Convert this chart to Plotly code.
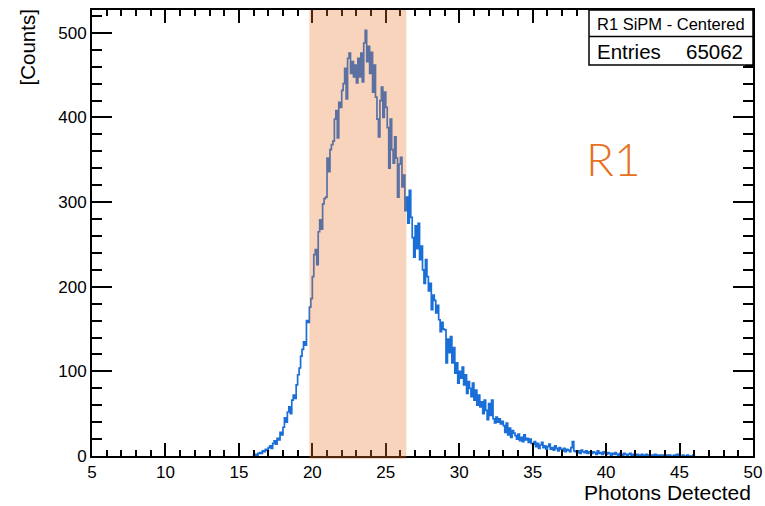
import plotly.graph_objects as go

# ---- data ----
bin_start = 16.0
bin_width = 0.1
counts = [
    1, 2, 1, 3, 4, 3, 6, 5, 8, 7,                         # 16.0-16.9
    10, 12, 9, 15, 18, 14, 21, 19, 28, 25,                # 17
    34, 45, 40, 52, 58, 50, 66, 72, 68, 84,               # 18
    96, 104, 118, 126, 135, 131, 160, 158, 176, 186,      # 19
    212, 238, 244, 226, 265, 279, 268, 298, 304, 306,     # 20
    352, 336, 362, 368, 372, 398, 408, 376, 418, 412,     # 21
    432, 440, 458, 422, 470, 476, 452, 466, 448, 462,     # 22
    441, 470, 448, 476, 442, 488, 503, 466, 484, 452,     # 23
    477, 430, 462, 424, 398, 377, 420, 436, 400, 430,     # 24
    412, 388, 340, 398, 362, 346, 377, 352, 306, 345,     # 25
    353, 318, 332, 290, 306, 275, 314, 282, 258, 235,     # 26
    272, 245, 275, 232, 248, 220, 204, 232, 212, 195,     # 27
    204, 173, 190, 184, 169, 178, 161, 147, 158, 150,     # 28
    149, 110, 138, 122, 141, 110, 128, 98, 110, 86,       # 29
    100, 92, 105, 84, 96, 74, 88, 80, 70, 86,             # 30
    66, 78, 60, 72, 58, 64, 50, 66, 54, 43,               # 31
    62, 48, 66, 44, 39, 46, 40, 44, 38, 41,               # 32
    36, 28, 39, 25, 33, 22, 30, 27, 24, 20,               # 33
    26, 18, 22, 17, 25, 19, 21, 16, 20, 15,               # 34
    14, 17, 11, 15, 9, 13, 16, 10, 12, 8,                 # 35
    11, 14, 8, 10, 7, 12, 9, 6, 10, 8,                    # 36
    6, 9, 5, 8, 7, 5, 10, 17, 6, 5,                       # 37
    4, 6, 3, 7, 5, 4, 6, 3, 5, 4,                         # 38
    3, 5, 4, 2, 6, 3, 4, 2, 5, 3,                         # 39
    2, 4, 3, 1, 3, 2, 4, 2, 1, 3,                         # 40
    2, 1, 3, 2, 1, 2, 3, 1, 2, 1,                         # 41
    1, 2, 1, 0, 2, 1, 1, 2, 0, 1,                         # 42
    1, 0, 1, 2, 0, 1, 0, 1, 1, 0,                         # 43
    0, 1, 0, 1, 0, 0, 1, 0, 2, 0,                         # 44
    0, 0, 1, 0, 0, 1, 0, 0, 0, 1,                         # 45
]
x_ticks = [5, 10, 15, 20, 25, 30, 35, 40, 45, 50]
y_ticks = [0, 100, 200, 300, 400, 500]
band_range = [19.8, 26.4]
title_text = "R1 SiPM - Centered"
entries = "65062"
x_title = "Photons Detected"
y_title = "[Counts]"
region_label = "R1"

# ---- build step outline ----
n = len(counts)
edges = [bin_start + i * bin_width for i in range(n + 1)]
xs = [edges[0]] + edges
ys = [0] + counts + [0]

W, H = 765, 506
L, R, T, B = 92, 12, 10, 50
pw, ph = W - L - R, H - T - B


def px(xp):
    return (xp - L) / pw


def py(yp):
    return (H - B - yp) / ph


fig = go.Figure()
fig.add_trace(go.Scatter(x=xs, y=ys, mode="lines", line_shape="hv",
                         line=dict(color="#1a6ed8", width=1.7),
                         hoverinfo="skip", showlegend=False))

axis_common = dict(showgrid=False, zeroline=False, showline=True, linecolor="black",
                   linewidth=2, mirror="allticks", ticks="inside", tickcolor="black",
                   tickwidth=2, automargin=False,
                   tickfont=dict(family="Liberation Sans", size=17, color="black"))

fig.update_xaxes(range=[5, 50], tickvals=x_ticks, ticklen=13,
                 minor=dict(dtick=1, ticks="inside", ticklen=6, tickcolor="black", tickwidth=2),
                 **axis_common)
fig.update_yaxes(range=[0, 527], tickvals=y_ticks, ticklen=20,
                 minor=dict(dtick=20, ticks="inside", ticklen=10, tickcolor="black", tickwidth=2),
                 **axis_common)

shapes = [
    dict(type="rect", xref="x", yref="paper", x0=band_range[0], x1=band_range[1],
         y0=-0.007, y1=1.0, fillcolor="rgba(232,120,50,0.32)", line=dict(width=0), layer="above"),
    # stats box shadow
    dict(type="rect", xref="paper", yref="paper", x0=px(745), x1=px(754.5), y0=py(68), y1=py(64),
         fillcolor="black", line=dict(width=0), layer="above"),
    # stats box
    dict(type="rect", xref="paper", yref="paper", x0=px(589), x1=1.0, y0=py(65), y1=1.0,
         fillcolor="white", line=dict(color="black", width=1.5), layer="above"),
    dict(type="line", xref="paper", yref="paper", x0=px(589), x1=1.0, y0=py(36.5), y1=py(36.5),
         line=dict(color="black", width=1.5), layer="above"),
]

annotations = [
    dict(text=title_text, xref="paper", yref="paper", x=px(671), y=py(23.5), showarrow=False,
         xanchor="center", yanchor="middle", font=dict(family="Liberation Sans", size=16.5, color="black")),
    dict(text="Entries", xref="paper", yref="paper", x=px(595), y=py(51), showarrow=False,
         xanchor="left", yanchor="middle", font=dict(family="Liberation Sans", size=20.5, color="black")),
    dict(text=entries, xref="paper", yref="paper", x=px(745), y=py(51), showarrow=False,
         xanchor="right", yanchor="middle", font=dict(family="Liberation Sans", size=20.5, color="black")),
    dict(text=x_title, xref="paper", yref="paper", x=1.0, y=py(493), showarrow=False,
         xanchor="right", yanchor="middle", font=dict(family="Liberation Sans", size=21, color="black")),
    dict(text=y_title, xref="paper", yref="paper", x=px(27), y=py(47.5), showarrow=False,
         textangle=-90, xanchor="center", yanchor="middle",
         font=dict(family="Liberation Sans", size=20.5, color="black")),
    dict(text=region_label, xref="paper", yref="paper", x=px(613), y=py(159), showarrow=False,
         xanchor="center", yanchor="middle",
         font=dict(family="Lato", size=46, color="#e8711f", weight=300)),
]

fig.update_layout(width=W, height=H, margin=dict(l=L, r=R, t=T, b=B, autoexpand=False),
                  paper_bgcolor="white", plot_bgcolor="white",
                  shapes=shapes, annotations=annotations, showlegend=False)

fig.write_html("out.html")
